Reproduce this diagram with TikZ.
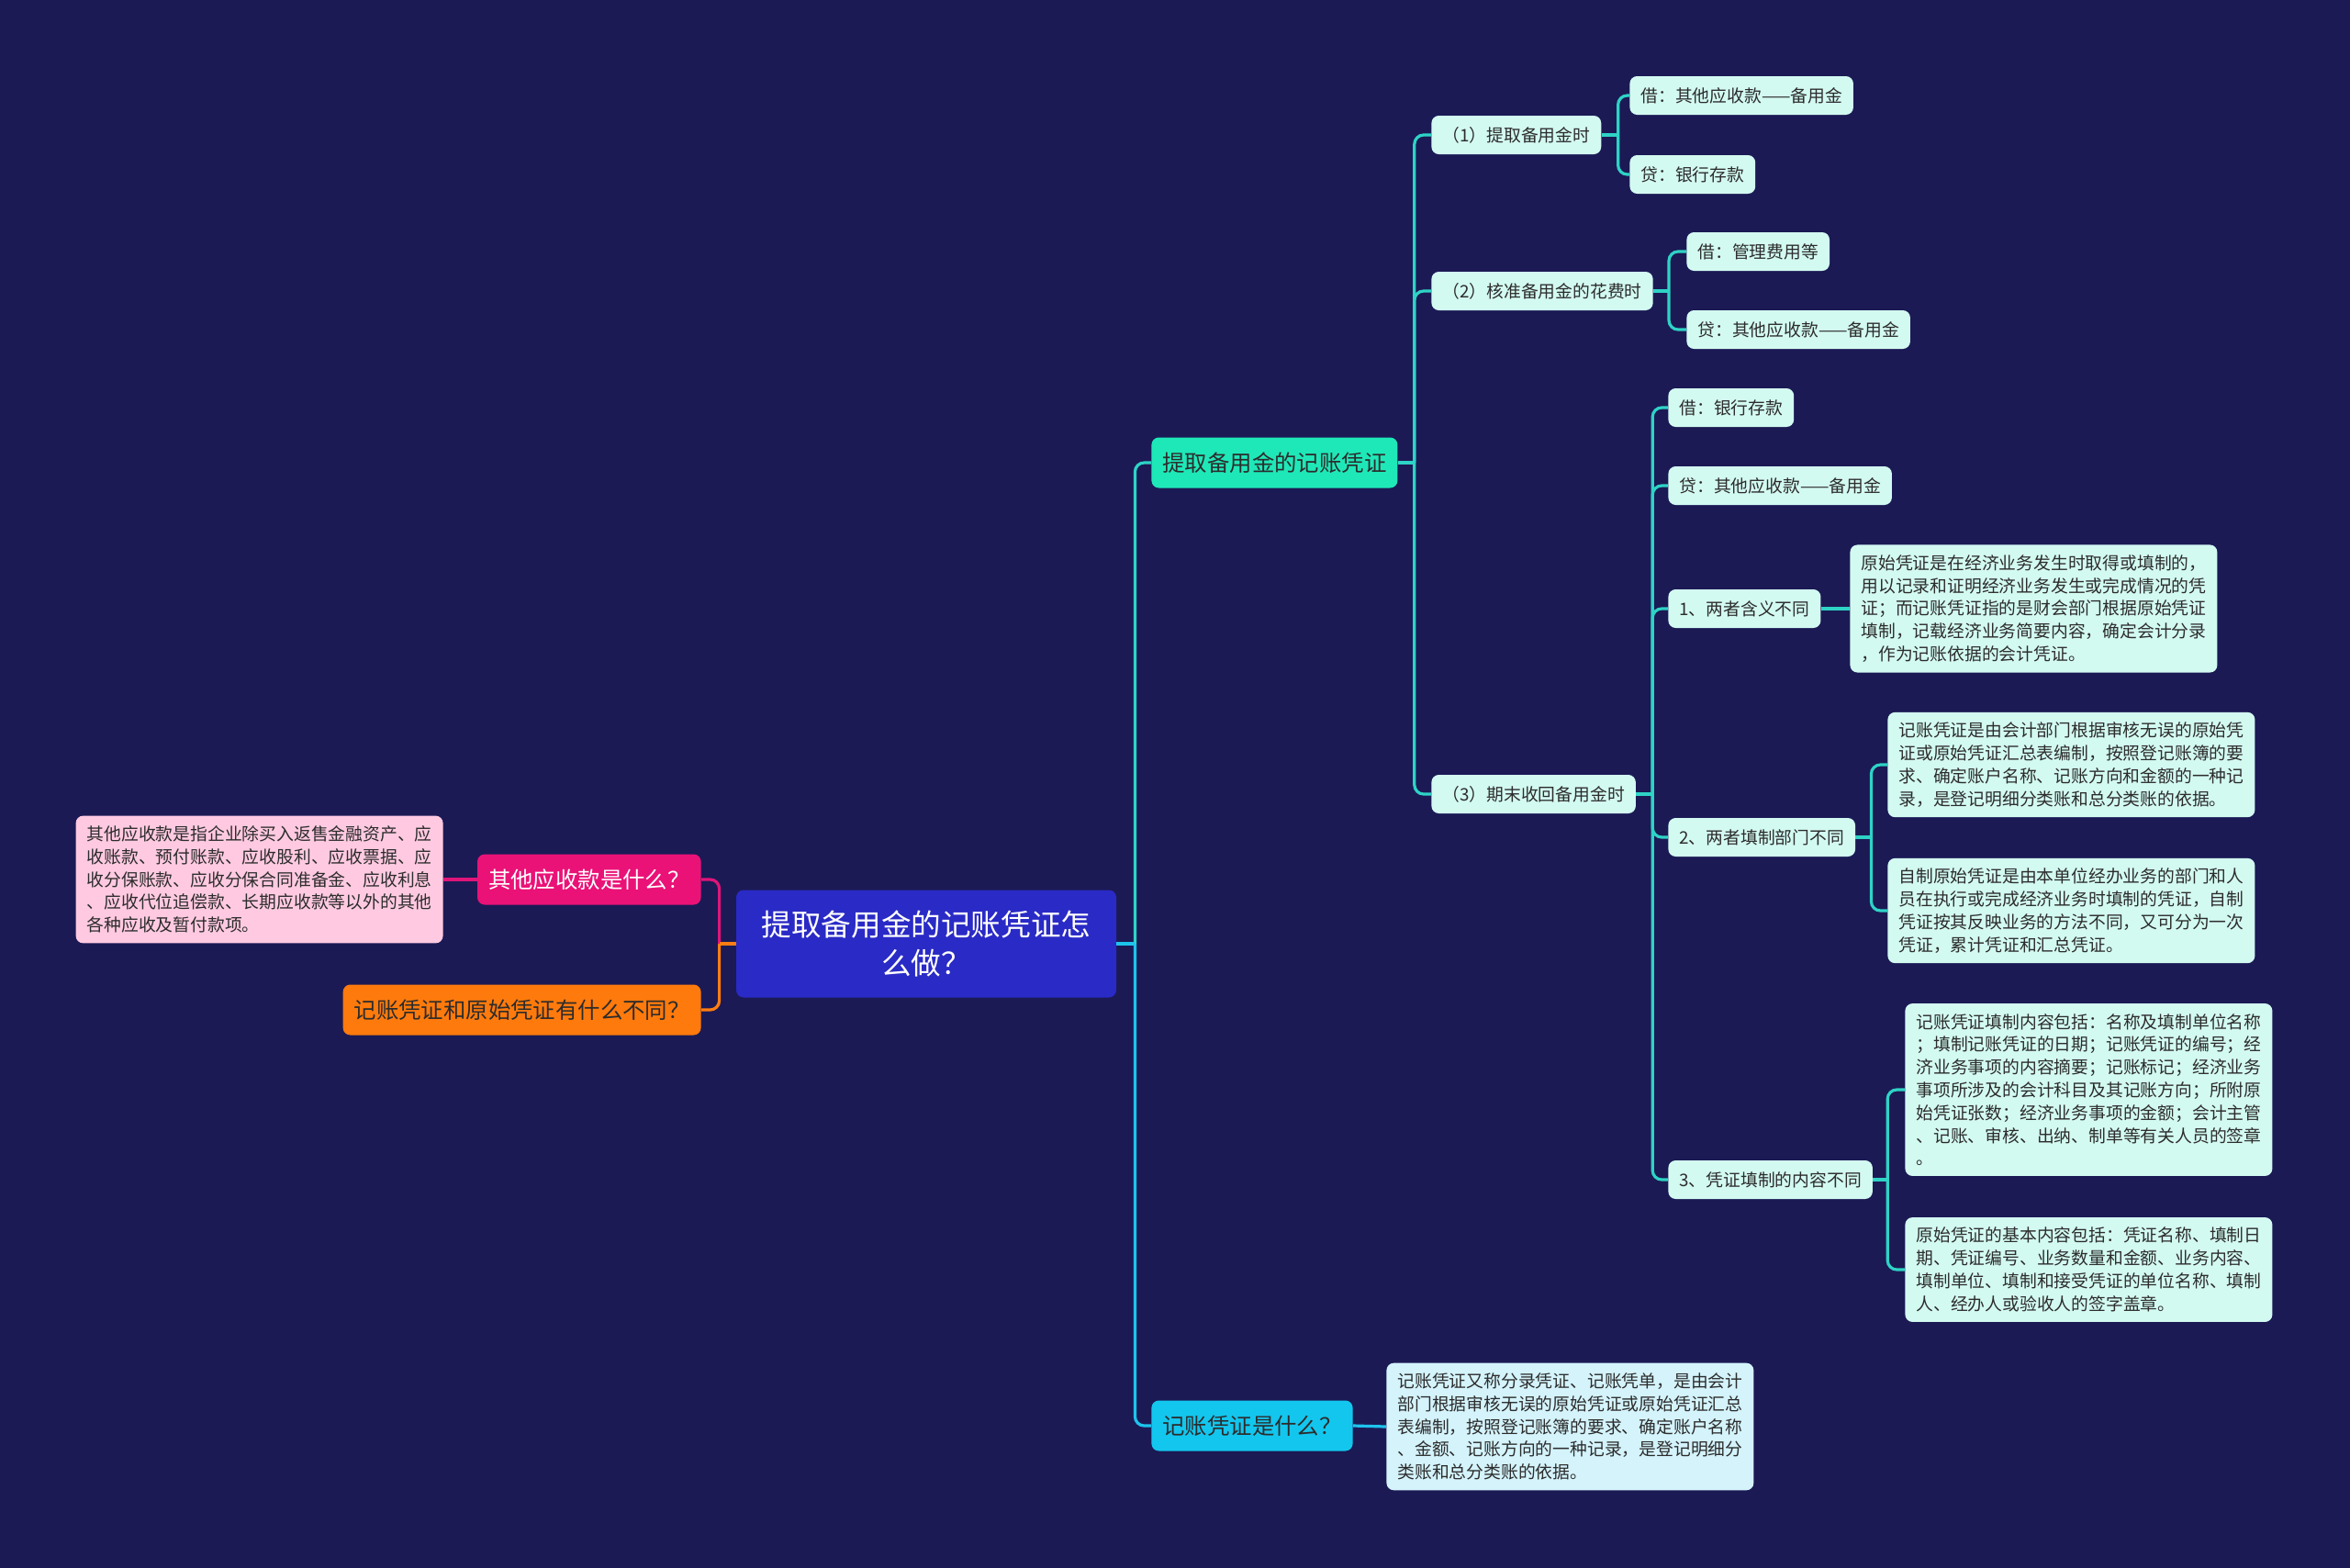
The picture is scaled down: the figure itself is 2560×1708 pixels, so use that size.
\documentclass[tikz,border=0pt]{standalone}
\usepackage{fontspec}
\setmainfont{Noto Sans CJK SC}
\usetikzlibrary{positioning, calc}

\definecolor{bgnavy}{HTML}{1B1A55}
\definecolor{rootblue}{HTML}{2A2AC6}
\definecolor{greentopic}{HTML}{1FE8B8}
\definecolor{cyantopic}{HTML}{13C6EE}
\definecolor{pinktopic}{HTML}{EA1277}
\definecolor{orangetopic}{HTML}{FF7A0C}
\definecolor{mintfill}{HTML}{D3FAF1}
\definecolor{cyanleaf}{HTML}{D4F3FB}
\definecolor{pinkleaf}{HTML}{FFCAE1}
\definecolor{inkdark}{HTML}{2C2C2C}
\definecolor{tealline}{HTML}{2ED3C5}
\definecolor{blueline}{HTML}{1EC3EC}
\definecolor{pinkline}{HTML}{E01579}
\definecolor{orangeline}{HTML}{FF7D12}

\tikzset{
  rootbox/.style={fill=rootblue, text=white, rounded corners=4pt, align=center,
    minimum width=207pt, minimum height=58.5pt,
    font=\fontsize{16.3}{21}\selectfont},
  topicbox/.style={rounded corners=4pt, inner xsep=6pt, inner ysep=0pt,
    minimum height=27.5pt, text=inkdark, font=\fontsize{12.2}{15}\selectfont},
  subbox/.style={fill=mintfill, rounded corners=4pt, inner xsep=6pt, inner ysep=0pt,
    minimum height=21pt, text=inkdark, font=\fontsize{9.4}{12.4}\selectfont},
  leafbox/.style={fill=mintfill, rounded corners=4pt, inner xsep=6pt, inner ysep=5.5pt,
    align=left, text=inkdark, font=\fontsize{9.4}{12.4}\selectfont},
  conn/.style={line width=1.6pt, rounded corners=5pt, draw=tealline},
}

\begin{document}
\begin{tikzpicture}[x=0.5pt, y=-0.5pt]

    % ============================================================
    % CANVAS
    % ============================================================
    \fill[bgnavy] (0,0) rectangle (2560,1708);
    \useasboundingbox (0,0) rectangle (2560,1708);

    % ============================================================
    % ROOT
    % ============================================================
    \node[rootbox] (root) at (1009,1028) {提取备用金的记账凭证怎\\么做？};

    % ============================================================
    % LEFT BRANCHES
    % ============================================================
    \node[topicbox, fill=pinktopic, text=white, anchor=east] (other) at (764,958)
        {其他应收款是什么？};
    \node[leafbox, fill=pinkleaf, anchor=east] (otherleaf) at (483,958)
        {其他应收款是指企业除买入返售金融资产、应\\
         收账款、预付账款、应收股利、应收票据、应\\
         收分保账款、应收分保合同准备金、应收利息\\
         、应收代位追偿款、长期应收款等以外的其他\\
         各种应收及暂付款项。};
    \node[topicbox, fill=orangetopic, anchor=east] (differ) at (764,1100)
        {记账凭证和原始凭证有什么不同？};

    % ============================================================
    % RIGHT BRANCH: VOUCHER ENTRIES
    % ============================================================
    \node[topicbox, fill=greentopic, anchor=west] (entry) at (1254,504)
        {提取备用金的记账凭证};

    % (1) drawing the fund
    \node[subbox, anchor=west] (draw) at (1559,147) {（1）提取备用金时};
    \node[subbox, anchor=west] (drawdr) at (1775,104) {借：其他应收款——备用金};
    \node[subbox, anchor=west] (drawcr) at (1775,190) {贷：银行存款};

    % (2) approving expenses
    \node[subbox, anchor=west] (spend) at (1559,317) {（2）核准备用金的花费时};
    \node[subbox, anchor=west] (spenddr) at (1837,274) {借：管理费用等};
    \node[subbox, anchor=west] (spendcr) at (1837,359) {贷：其他应收款——备用金};

    % (3) recovering the fund
    \node[subbox, anchor=west] (back) at (1559,865) {（3）期末收回备用金时};
    \node[subbox, anchor=west] (backdr) at (1817,444) {借：银行存款};
    \node[subbox, anchor=west] (backcr) at (1817,529) {贷：其他应收款——备用金};
    \node[subbox, anchor=west] (mean) at (1817,663) {1、两者含义不同};
    \node[subbox, anchor=west] (dept) at (1817,912) {2、两者填制部门不同};
    \node[subbox, anchor=west] (content) at (1817,1285) {3、凭证填制的内容不同};

    \node[leafbox, anchor=west] (meanleaf) at (2015,663)
        {原始凭证是在经济业务发生时取得或填制的，\\
         用以记录和证明经济业务发生或完成情况的凭\\
         证；而记账凭证指的是财会部门根据原始凭证\\
         填制，记载经济业务简要内容，确定会计分录\\
         ，作为记账依据的会计凭证。};
    \node[leafbox, anchor=west] (deptleafa) at (2056,833)
        {记账凭证是由会计部门根据审核无误的原始凭\\
         证或原始凭证汇总表编制，按照登记账簿的要\\
         求、确定账户名称、记账方向和金额的一种记\\
         录，是登记明细分类账和总分类账的依据。};
    \node[leafbox, anchor=west] (deptleafb) at (2056,992)
        {自制原始凭证是由本单位经办业务的部门和人\\
         员在执行或完成经济业务时填制的凭证，自制\\
         凭证按其反映业务的方法不同，又可分为一次\\
         凭证，累计凭证和汇总凭证。};
    \node[leafbox, anchor=west] (contleafa) at (2075,1187)
        {记账凭证填制内容包括：名称及填制单位名称\\
         ；填制记账凭证的日期；记账凭证的编号；经\\
         济业务事项的内容摘要；记账标记；经济业务\\
         事项所涉及的会计科目及其记账方向；所附原\\
         始凭证张数；经济业务事项的金额；会计主管\\
         、记账、审核、出纳、制单等有关人员的签章\\
         。};
    \node[leafbox, anchor=west] (contleafb) at (2075,1383)
        {原始凭证的基本内容包括：凭证名称、填制日\\
         期、凭证编号、业务数量和金额、业务内容、\\
         填制单位、填制和接受凭证的单位名称、填制\\
         人、经办人或验收人的签字盖章。};

    % ============================================================
    % RIGHT BRANCH: WHAT IS A VOUCHER
    % ============================================================
    \node[topicbox, fill=cyantopic, anchor=west] (what) at (1254,1553)
        {记账凭证是什么？};
    \node[leafbox, fill=cyanleaf, anchor=west] (whatleaf) at (1510,1554)
        {记账凭证又称分录凭证、记账凭单，是由会计\\
         部门根据审核无误的原始凭证或原始凭证汇总\\
         表编制，按照登记账簿的要求、确定账户名称\\
         、金额、记账方向的一种记录，是登记明细分\\
         类账和总分类账的依据。};

    % ============================================================
    % CONNECTORS
    % ============================================================
    \coordinate (jL) at ([xshift=-9pt]root.west);
    \coordinate (jR) at ([xshift=10pt]root.east);
    \coordinate (jE) at ([xshift=9pt]entry.east);
    \coordinate (j1) at ([xshift=9pt]draw.east);
    \coordinate (j2) at ([xshift=8.5pt]spend.east);
    \coordinate (j3) at ([xshift=9pt]back.east);
    \coordinate (jD) at ([xshift=8.5pt]dept.east);
    \coordinate (jC) at ([xshift=8pt]content.east);

    % left side
    \draw[conn, draw=pinkline] (jL) |- (other.east);
    \draw[conn, draw=orangeline] (jL) |- (differ.east);
    \draw[conn, draw=orangeline] (root.west) -- (jL);
    \draw[conn, draw=pinkline] (other.west) -- (otherleaf.east);

    % right side
    \draw[conn] (jR) |- (entry.west);
    \draw[conn, draw=blueline] (jR) |- (what.west);
    \draw[conn, draw=blueline] (root.east) -- (jR);
    \draw[conn, draw=blueline] (what.east) -- (whatleaf.west);

    \draw[conn] (entry.east) -- (jE);
    \foreach \c in {draw, spend, back}
        \draw[conn] (jE) |- (\c.west);

    \draw[conn] (draw.east) -- (j1);
    \foreach \c in {drawdr, drawcr}
        \draw[conn] (j1) |- (\c.west);

    \draw[conn] (spend.east) -- (j2);
    \foreach \c in {spenddr, spendcr}
        \draw[conn] (j2) |- (\c.west);

    \draw[conn] (back.east) -- (j3);
    \foreach \c in {backdr, backcr, mean, dept, content}
        \draw[conn] (j3) |- (\c.west);

    \draw[conn] (mean.east) -- (meanleaf.west);

    \draw[conn] (dept.east) -- (jD);
    \foreach \c in {deptleafa, deptleafb}
        \draw[conn] (jD) |- (\c.west);

    \draw[conn] (content.east) -- (jC);
    \foreach \c in {contleafa, contleafb}
        \draw[conn] (jC) |- (\c.west);

\end{tikzpicture}
\end{document}
